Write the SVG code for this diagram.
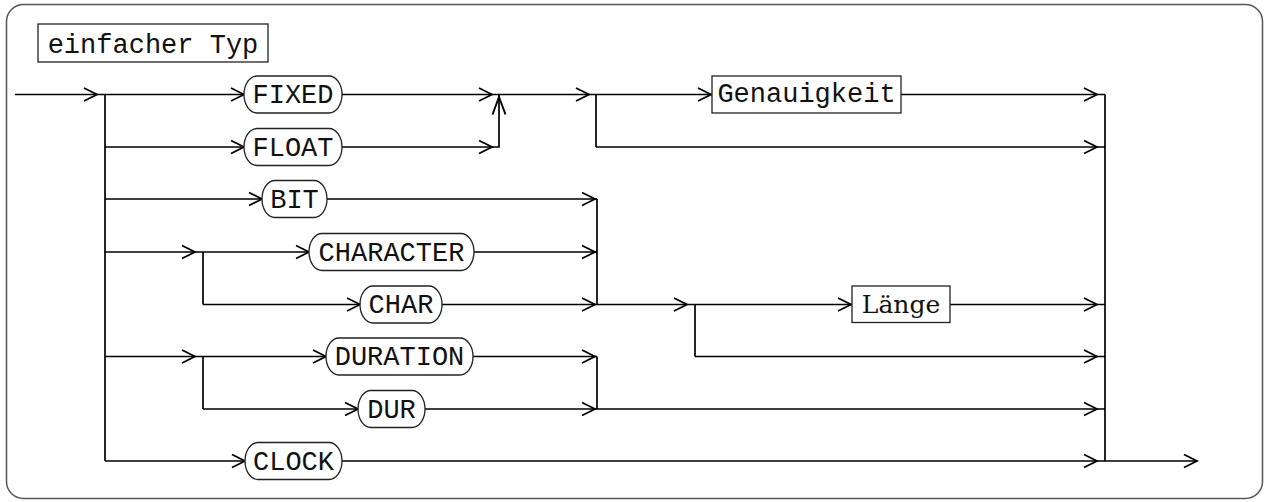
<svg xmlns="http://www.w3.org/2000/svg" xmlns:xlink="http://www.w3.org/1999/xlink" width="1270" height="502" viewBox="0 0 1270 502">
<style>
.frame{fill:#fff;stroke:#555;stroke-width:1.5}
.c{fill:none;stroke:#000;stroke-width:1.7}
.ah{fill:none;stroke:#000;stroke-width:1.8;stroke-linejoin:miter}
.pill{fill:#fff;stroke:#222;stroke-width:1.3}
.box{fill:#fff;stroke:#222;stroke-width:1.3}
.t{font-family:"Liberation Mono",monospace;font-size:27px;fill:#111;text-anchor:middle}
.s{font-family:"DejaVu Serif",serif;font-size:25px;fill:#111;text-anchor:middle}
</style>
<defs>
<path id="ah" class="ah" d="M-13,-6.5 L0,0 L-13,6.5"/>
</defs>
<rect class="frame" x="6.5" y="4.5" width="1256" height="494" rx="17" ry="17"/>
<g id="title">
<rect class="box" x="38" y="24" width="230" height="38"/>
<text class="t" x="153" y="52.5">einfacher Typ</text>
</g>
<g id="connectors">
<path class="c" d="M15,94.5 H105 M105,94.5 V461 M105,94.5 H244 M105,147 H244 M105,199 H262 M105,252 H203 M203,252 V304.5 M203,252 H309 M203,304.5 H360 M105,356.5 H203 M203,356.5 V409 M203,356.5 H326 M203,409 H358 M105,461 H245"/>
<path class="c" d="M342,94.5 H596 M342,147 H499 V94.5 M596,94.5 V147 M596,94.5 H712 M901,94.5 H1105 M596,147 H1105"/>
<path class="c" d="M327,199 H597 M474,252 H597 M442,304.5 H852 M597,199 V304.5 M695,304.5 V356.5 M950,304.5 H1105 M695,356.5 H1105"/>
<path class="c" d="M473,356.5 H597 M597,356.5 V409 M425,409 H1105 M342,461 H1197 M1105,94.5 V461"/>
<use xlink:href="#ah" transform="translate(97,94.5)"/>
<use xlink:href="#ah" transform="translate(244,94.5)"/>
<use xlink:href="#ah" transform="translate(244,147)"/>
<use xlink:href="#ah" transform="translate(262,199)"/>
<use xlink:href="#ah" transform="translate(195,252)"/>
<use xlink:href="#ah" transform="translate(309,252)"/>
<use xlink:href="#ah" transform="translate(360,304.5)"/>
<use xlink:href="#ah" transform="translate(195,356.5)"/>
<use xlink:href="#ah" transform="translate(326,356.5)"/>
<use xlink:href="#ah" transform="translate(358,409)"/>
<use xlink:href="#ah" transform="translate(245,461)"/>
<use xlink:href="#ah" transform="translate(492,94.5)"/>
<use xlink:href="#ah" transform="translate(492,147)"/>
<use xlink:href="#ah" transform="translate(499,97) rotate(-90) scale(1.35,1)"/>
<use xlink:href="#ah" transform="translate(589,94.5)"/>
<use xlink:href="#ah" transform="translate(711,94.5)"/>
<use xlink:href="#ah" transform="translate(1097,94.5)"/>
<use xlink:href="#ah" transform="translate(1097,147)"/>
<use xlink:href="#ah" transform="translate(595,199)"/>
<use xlink:href="#ah" transform="translate(595,252)"/>
<use xlink:href="#ah" transform="translate(595,304.5)"/>
<use xlink:href="#ah" transform="translate(687,304.5)"/>
<use xlink:href="#ah" transform="translate(851,304.5)"/>
<use xlink:href="#ah" transform="translate(1097,304.5)"/>
<use xlink:href="#ah" transform="translate(1097,356.5)"/>
<use xlink:href="#ah" transform="translate(595,356.5)"/>
<use xlink:href="#ah" transform="translate(595,409)"/>
<use xlink:href="#ah" transform="translate(1097,409)"/>
<use xlink:href="#ah" transform="translate(1097,461)"/>
<use xlink:href="#ah" transform="translate(1197,461)"/>
</g>
<g id="FIXED"><rect class="pill" x="244" y="76" width="98" height="37" rx="13" ry="18.5"/><text class="t" x="293" y="103">FIXED</text></g>
<g id="FLOAT"><rect class="pill" x="244" y="128.5" width="98" height="37" rx="13" ry="18.5"/><text class="t" x="293" y="155.5">FLOAT</text></g>
<g id="BIT"><rect class="pill" x="262" y="180.5" width="65" height="37" rx="13" ry="18.5"/><text class="t" x="294.5" y="207.5">BIT</text></g>
<g id="CHARACTER"><rect class="pill" x="309" y="233.5" width="165" height="37" rx="13" ry="18.5"/><text class="t" x="391.5" y="260.5">CHARACTER</text></g>
<g id="CHAR"><rect class="pill" x="360" y="286" width="82" height="37" rx="13" ry="18.5"/><text class="t" x="401" y="313">CHAR</text></g>
<g id="DURATION"><rect class="pill" x="326" y="338" width="147" height="37" rx="13" ry="18.5"/><text class="t" x="399.5" y="365">DURATION</text></g>
<g id="DUR"><rect class="pill" x="358" y="390.5" width="67" height="37" rx="13" ry="18.5"/><text class="t" x="391.5" y="417.5">DUR</text></g>
<g id="CLOCK"><rect class="pill" x="245" y="442.5" width="97" height="37" rx="13" ry="18.5"/><text class="t" x="293.5" y="469.5">CLOCK</text></g>
<g id="Genauigkeit"><rect class="box" x="712" y="76" width="189" height="37"/><text class="t" x="806.5" y="102">Genauigkeit</text></g>
<g id="Laenge"><rect class="box" x="852" y="286" width="98" height="36.5"/><text class="s" x="901" y="313">Länge</text></g>
</svg>
